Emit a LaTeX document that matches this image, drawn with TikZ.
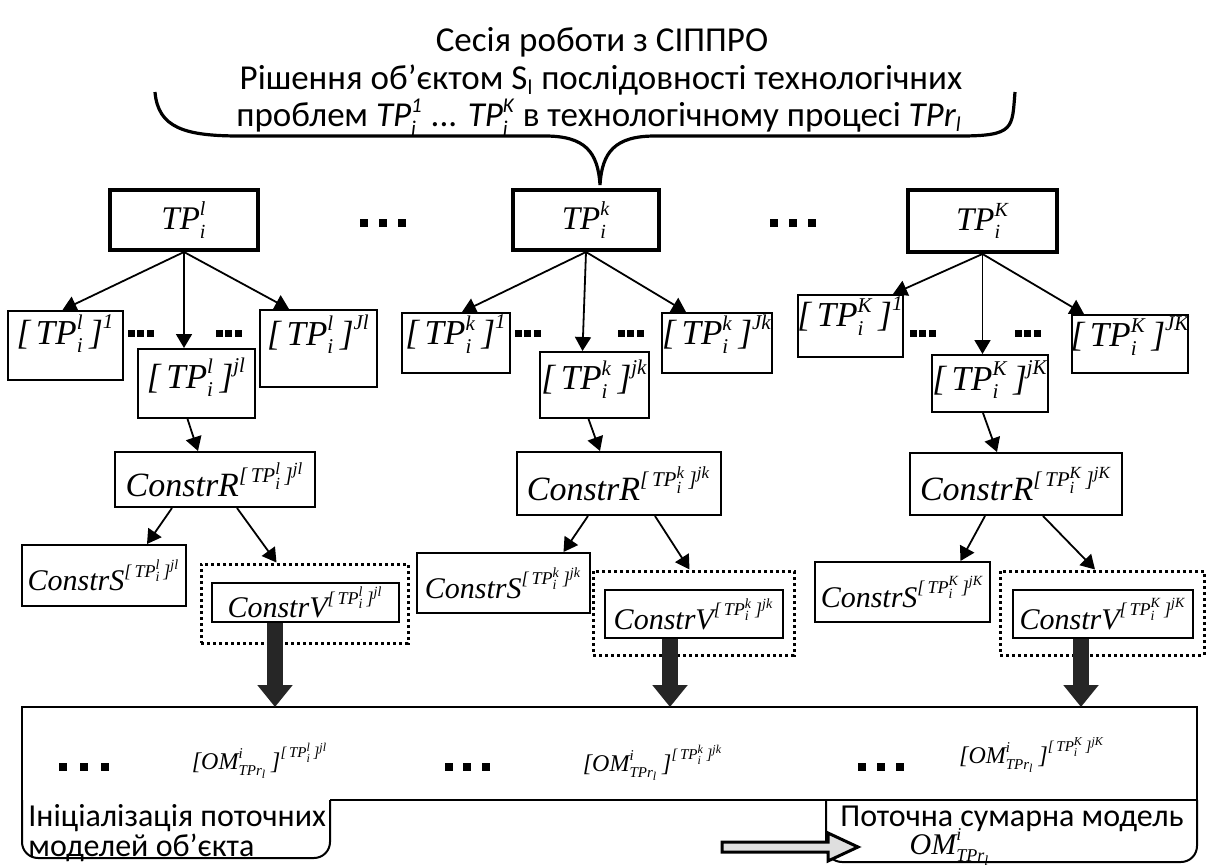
\documentclass[tikz,border=0pt]{standalone}
\usepackage{fontspec}
\usepackage{amsmath}
\setmainfont{Liberation Serif}
\newfontfamily\sansua{Carlito}
\usetikzlibrary{arrows.meta,calc}

% script sizes for the text sizes used below
\DeclareMathSizes{17.5}{17.5}{10.5}{8}
\DeclareMathSizes{16.5}{16.5}{10}{8}
\DeclareMathSizes{17}{17}{10.5}{8.5}
\DeclareMathSizes{15}{15}{9}{7}
\DeclareMathSizes{16}{16}{9}{7}
\DeclareMathSizes{12}{12}{7.5}{6}

% italic text pieces inside formulas
\newcommand\itx[1]{\textit{#1}}
\newcommand\TPi[1]{\itx{TP}_{\itx{i}}^{\itx{#1}}}
\newcommand\TPbr[2]{\itx{[}\,\TPi{#1}\,\itx{]}^{\itx{#2}}}
\newcommand\OMi{\itx{OM}^{\itx{i}}_{\itx{TPr}_{\itx{l}}}}

\begin{document}
\begin{tikzpicture}[x=0.5pt,y=-0.5pt,
  sz/.style 2 args={minimum width=#1*0.5pt, minimum height=#2*0.5pt},
  tbox/.style={draw, line width=2pt, inner sep=0pt, fill=white},
  bx/.style={draw, line width=1pt, inner sep=0pt, fill=white},
  dbox/.style={draw, line width=1.5pt, dash pattern=on 1.5pt off 1.5pt, inner sep=0pt},
  arr/.style={line width=0.9pt, -{Triangle[length=7pt,width=8pt]}},
  fat/.style={line width=8pt, black!85, -{Triangle[length=11pt,width=17pt]}},
  head/.style={font=\sansua\fontsize{17.5}{20}\selectfont, inner sep=0pt},
  note/.style={font=\sansua\fontsize{16}{13}\selectfont, inner sep=0pt},
  big/.style={font=\fontsize{16.5}{20}\selectfont},
  rr/.style={font=\fontsize{17}{20}\selectfont},
  kid/.style={font=\fontsize{17.5}{22}\selectfont, inner sep=0pt},
  mid/.style={font=\fontsize{15}{18}\selectfont},
  small/.style={font=\fontsize{12}{14}\selectfont, inner sep=0pt}]
\useasboundingbox (0,0) rectangle (1206,867);
\fill[white] (0,0) rectangle (1206,867);

% heading and brace
\node[head] (t1) at (602,42) {Сесія роботи з СІППРО};
\node[head] (t2) at (601,80) {Рішення об’єктом S\textsubscript{l} послідовності технологічних};
\node[head] (t3) at (599,117) {проблем $\itx{TP}_{\itx{i}}^{\itx{1}}$ ... $\itx{TP}_{\itx{i}}^{\itx{K}}$ в технологічному процесі $\itx{TPr}_{\itx{l}}$};
\draw[line width=1.6pt] (155,92) .. controls (158,128) and (185,136) .. (240,136)
  -- (545,136) .. controls (585,136) and (598,152) .. (600,185)
  .. controls (602,152) and (615,136) .. (655,136)
  -- (960,136) .. controls (1015,136) and (1012,128) .. (1015,92);

% problem boxes
\node[tbox, sz={148}{60}, big] (tpl) at (184,220) {$\TPi{l}$};
\node[tbox, sz={146}{60}, big] (tpk) at (586,220) {$\TPi{k}$};
\node[tbox, sz={149}{62}, big] (tpK) at (982.5,221) {$\TPi{K}$};
\foreach \x in {364,383,402,774,793,812}
  \fill (\x-4,219) rectangle (\x+4,227);

% sub-problem boxes
\node[bx, sz={115}{69}, label={[kid,yshift=6pt]center:$\TPbr{l}{1}$}] (c1l) at (65.5,345.5) {};
\node[bx, sz={117}{69}, label={[kid,yshift=3pt]center:$\TPbr{l}{jl}$}] (cjl) at (196.5,383.5) {};
\node[bx, sz={117}{77}, label={[kid,yshift=7pt]center:$\TPbr{l}{Jl}$}] (cJl) at (318.5,348.5) {};
\node[bx, sz={108}{60}, label={[kid,yshift=4.5pt]center:$\TPbr{k}{1}$}] (c1k) at (456,343) {};
\node[bx, sz={109}{66}, label={[kid,yshift=3pt]center:$\TPbr{k}{jk}$}] (cjk) at (594.5,385) {};
\node[bx, sz={110}{60}, label={[kid,yshift=4.5pt]center:$\TPbr{k}{Jk}$}] (cJk) at (717,343) {};
\node[bx, sz={105}{62}, label={[kid,yshift=5pt]center:$\TPbr{K}{1}$}] (c1K) at (850.5,326) {};
\node[bx, sz={116}{57}, label={[kid,yshift=2pt]center:$\TPbr{K}{jK}$}] (cjK) at (990,383.5) {};
\node[bx, sz={116}{58}, label={[kid,yshift=4pt]center:$\TPbr{K}{JK}$}] (cJK) at (1130,344) {};
\foreach \x in {131,140.5,150,219,228.5,238,518,527.5,537,621,630.5,640,913,922.5,932,1018,1027.5,1037}
  \fill (\x-3.5,330) rectangle (\x+3.5,337);

\draw[arr] (tpl.south) -- ([xshift=-1.5pt]c1l.north);
\draw[arr] (tpl.south) -- (tpl.south |- cjl.north);
\draw[arr] (tpl.south) -- ([xshift=15pt]cJl.north west);
\draw[arr] (tpk.south) -- ([xshift=3pt]c1k.north);
\draw[arr] (tpk.south) -- ([xshift=-6pt]cjk.north);
\draw[arr] (tpk.south) -- ([xshift=12.5pt]cJk.north west);
\draw[arr] (tpK.south) -- ([xshift=-5.5pt]c1K.north east);
\draw[arr] (tpK.south) -- (tpK.south |- cjK.north);
\draw[arr] (tpK.south) -- ([xshift=6.5pt]cJK.north west);

% constructors
\node[bx, sz={200}{55}, rr] (Rl) at (215,479.5) {$\itx{ConstrR}^{\TPbr{l}{jl}}$};
\node[bx, sz={204}{63}, rr] (Rk) at (619,483.5) {$\itx{ConstrR}^{\TPbr{k}{jk}}$};
\node[bx, sz={212}{62}, rr] (RK) at (1016,484) {$\itx{ConstrR}^{\TPbr{K}{jK}}$};
\draw[arr] ([xshift=-4.5pt]cjl.south) -- ([xshift=-8.5pt]Rl.north);
\draw[arr] ([xshift=-3pt]cjk.south) -- ([xshift=-9.5pt]Rk.north);
\draw[arr] ([xshift=-3.5pt]cjK.south) -- ([xshift=-9.5pt]RK.north);

\node[bx, sz={164}{61}, mid] (Sl) at (104,575.5) {$\itx{ConstrS}^{\TPbr{l}{jl}}$};
\node[bx, sz={173}{60}, mid] (Sk) at (503.5,583) {$\itx{ConstrS}^{\TPbr{k}{jk}}$};
\node[bx, sz={175}{60}, mid] (SK) at (902.5,592) {$\itx{ConstrS}^{\TPbr{K}{jK}}$};
\node[dbox, sz={207}{79}] (Dl) at (304.5,603.5) {};
\node[dbox, sz={201}{84}] (Dk) at (693.5,613) {};
\node[dbox, sz={204}{84}] (DK) at (1102,613) {};
\node[bx, sz={187}{39}, mid] (Vl) at (305.5,602.5) {$\itx{ConstrV}^{\TPbr{l}{jl}}$};
\node[bx, sz={178}{48}, mid] (Vk) at (694,614) {$\itx{ConstrV}^{\TPbr{k}{jk}}$};
\node[bx, sz={180}{48}, mid] (VK) at (1103,614) {$\itx{ConstrV}^{\TPbr{K}{jK}}$};

\draw[arr] ([xshift=-21.5pt]Rl.south) -- ([xshift=21.5pt]Sl.north);
\draw[arr] ([xshift=11pt]Rl.south) -- ([xshift=-14pt]Dl.north);
\draw[arr] ([xshift=-15.5pt]Rk.south) -- ([xshift=30pt]Sk.north);
\draw[arr] ([xshift=18pt]Rk.south) -- ([xshift=-2pt]Dk.north);
\draw[arr] ([xshift=-15.5pt]RK.south) -- ([xshift=29pt]SK.north);
\draw[arr] ([xshift=13.5pt]RK.south) -- ([xshift=-3.5pt]DK.north);

% model strip with its two captions
\draw[line width=1pt] (22,800) -- (22,707) -- (1197,707) -- (1197,800) -- (330,800);
\draw[line width=1pt, rounded corners=8pt] (330,800) -- (330,858) -- (22,858) -- (22,800);
\draw[line width=1pt, rounded corners=8pt] (826,800) -- (826,862) -- (1197,862) -- (1197,800);

\coordinate (ml) at (275,707);
\coordinate (mk) at (670,707);
\coordinate (mK) at (1081,707);
\draw[fat] (Vl.south -| ml) -- (ml);
\draw[fat] (Vk.south -| mk) -- (mk);
\draw[fat] (VK.south -| mK) -- (mK);

\foreach \x in {63,84,105,449,467,486,862,881,900}
  \fill (\x-4,763) rectangle (\x+4,771);
\node[small] (oml) at (260,761) {$\itx{[}\OMi\,\itx{]}^{\TPbr{l}{jl}}$};
\node[small] (omk) at (653,763) {$\itx{[}\OMi\,\itx{]}^{\TPbr{k}{jk}}$};
\node[small] (omK) at (1032,755) {$\itx{[}\OMi\,\itx{]}^{\TPbr{K}{jK}}$};

\node[note, anchor=west, align=left] (init) at (28,833) {Ініціалізація поточних\\моделей об’єкта};
\node[note] (sum) at (1012,819) {Поточна сумарна модель};
\node[mid, inner sep=0pt] (omt) at (950,847) {$\OMi$};

\draw[line width=1.5pt, fill=gray!25, line join=miter]
  (722,842) -- (828,842) -- (828,833) -- (858,847) -- (828,861) -- (828,852) -- (722,852) -- cycle;
\end{tikzpicture}
\end{document}
